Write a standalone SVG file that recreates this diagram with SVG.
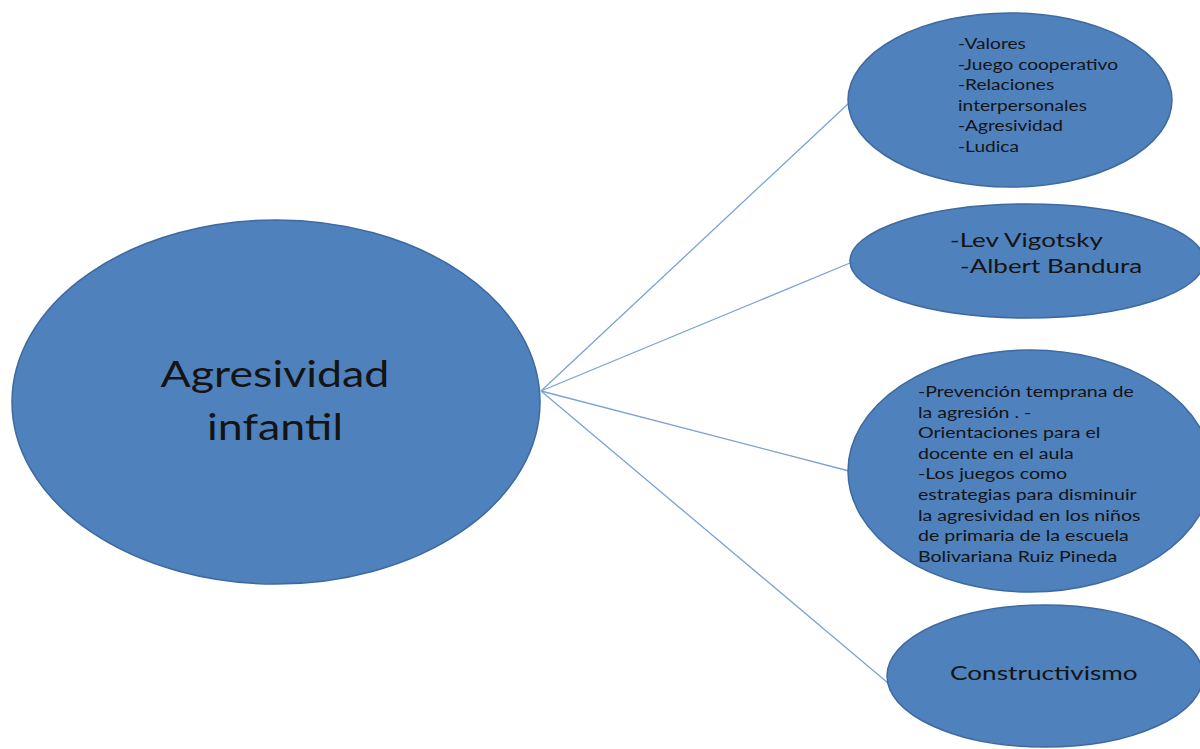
<svg xmlns="http://www.w3.org/2000/svg" width="1200" height="749" viewBox="0 0 1200 749">
<style>
.node{fill:#4f81bd;stroke:#3d6aa0;stroke-width:1.5}
.conn{stroke:#7aa2d6;stroke-width:1.3;fill:none}
text{font-family:Lato,"Open Sans",sans-serif;fill:#141414}
.s{font-size:14.5px}
.m{font-size:20px}
.l{font-size:37px}
</style>
<rect width="1200" height="749" fill="#ffffff"/>
<g id="connectors">
<line class="conn" x1="541" y1="391" x2="849" y2="103"/>
<line class="conn" x1="541" y1="391" x2="850" y2="263"/>
<line class="conn" x1="541" y1="391" x2="849" y2="471"/>
<line class="conn" x1="541" y1="391" x2="888" y2="683"/>
</g>
<g id="n0">
<ellipse class="node" cx="276" cy="402" rx="264" ry="182"/>
<g transform="translate(275,0) scale(1.21,1) translate(-275,0)">
<text class="l" text-anchor="middle" x="275" y="387">Agresividad</text>
<text class="l" text-anchor="middle" x="275" y="440">infantil</text>
</g>
</g>
<g id="n1">
<ellipse class="node" cx="1010" cy="100" rx="162" ry="87"/>
<g transform="translate(958,0) scale(1.32,1) translate(-958,0)">
<text class="s" x="958" y="49">-Valores</text>
<text class="s" x="958" y="70">-Juego cooperativo</text>
<text class="s" x="958" y="90">-Relaciones</text>
<text class="s" x="958" y="111">interpersonales</text>
<text class="s" x="958" y="131">-Agresividad</text>
<text class="s" x="958" y="152">-Ludica</text>
</g>
</g>
<g id="n2">
<ellipse class="node" cx="1027" cy="261" rx="177" ry="57"/>
<text class="m" x="950" y="247" transform="translate(950,0) scale(1.3,1) translate(-950,0)">-Lev Vigotsky</text>
<text class="m" x="960" y="273" transform="translate(960,0) scale(1.3,1) translate(-960,0)">-Albert Bandura</text>
</g>
<g id="n3">
<ellipse class="node" cx="1030" cy="471" rx="182" ry="121"/>
<g transform="translate(918,0) scale(1.35,1) translate(-918,0)">
<text class="s" x="918" y="397">-Prevención temprana de</text>
<text class="s" x="918" y="418">la agresión . -</text>
<text class="s" x="918" y="438">Orientaciones para el</text>
<text class="s" x="918" y="459">docente en el aula</text>
<text class="s" x="918" y="479">-Los  juegos como</text>
<text class="s" x="918" y="500">estrategias para disminuir</text>
<text class="s" x="918" y="521">la agresividad en los niños</text>
<text class="s" x="918" y="541">de primaria de la escuela</text>
<text class="s" x="918" y="562">Bolivariana Ruiz Pineda</text>
</g>
</g>
<g id="n4">
<ellipse class="node" cx="1045" cy="676" rx="158" ry="71"/>
<text class="m" x="950" y="680" transform="translate(950,0) scale(1.31,1) translate(-950,0)">Constructivismo</text>
</g>
</svg>
